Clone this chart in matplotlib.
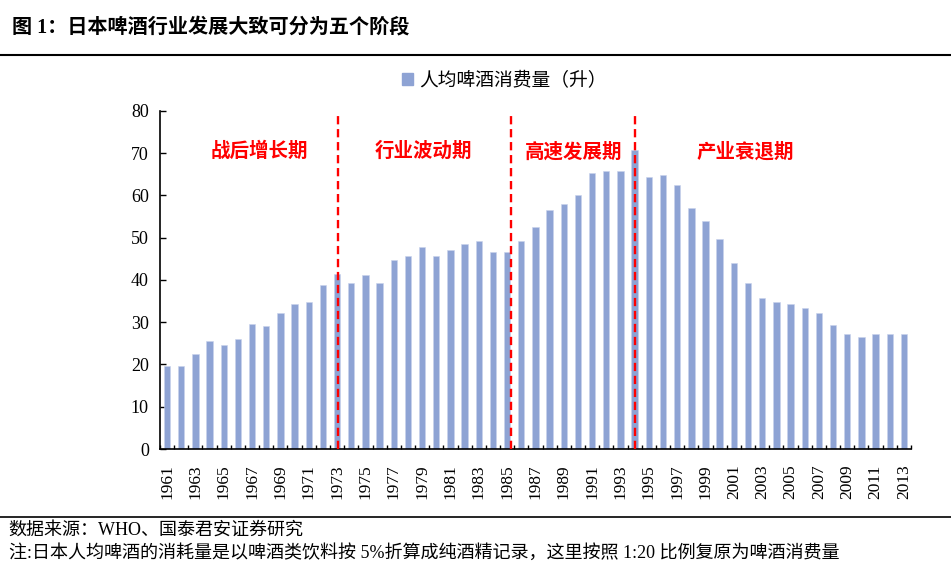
#!/usr/bin/env python

import numpy as np
import matplotlib
matplotlib.use("Agg")
import matplotlib.pyplot as plt
from matplotlib.patches import Patch

years = list(range(1961, 2014))
consumption = [
    19.7, 19.7, 22.5, 25.5, 24.5, 26.0, 29.5, 29.0, 32.3, 34.3,
    34.8, 38.8, 41.5, 39.2, 41.2, 39.2, 44.8, 45.7, 47.7, 45.7,
    47.2, 48.6, 49.2, 46.7, 46.7, 49.2, 52.5, 56.6, 58.0, 60.0,
    65.3, 65.8, 65.8, 70.8, 64.3, 64.8, 62.5, 57.0, 54.0, 49.6,
    44.0, 39.2, 35.8, 34.7, 34.3, 33.3, 32.3, 29.3, 27.3, 26.4,
    27.3, 27.3, 27.3,
]
phase_names = ["战后增长期", "行业波动期", "高速发展期", "产业衰退期"]
# dashed separators sit at these years
phase_breaks = [1973, 1985, 1994]

title = "图 1：日本啤酒行业发展大致可分为五个阶段"
legend_label = "人均啤酒消费量（升）"
source_note = "数据来源：WHO、国泰君安证券研究"
remark_note = "注:日本人均啤酒的消耗量是以啤酒类饮料按 5%折算成纯酒精记录，这里按照 1:20 比例复原为啤酒消费量"

serif = ["Liberation Serif", "Noto Sans CJK SC"]
cjk = ["Noto Sans CJK SC", "DejaVu Sans"]
bar_color = "#8EA3D4"


def draw():
    fig = plt.figure(figsize=(9.51, 5.83), dpi=100)
    ax = fig.add_axes([0.1682, 0.2298, 0.7897, 0.5800])

    x = np.arange(len(years))
    ax.bar(x, consumption, width=0.45, color=bar_color,
           edgecolor="#C9D3EC", linewidth=0.4, zorder=2)

    ax.set_xlim(-0.5, len(years) - 0.5)
    ax.set_ylim(0, 80)
    ax.set_yticks(np.arange(0, 81, 10))
    for lbl in ax.get_yticklabels():
        lbl.set_family(serif)
    ax.tick_params(axis="y", direction="in", length=4, width=1,
                   labelsize=13, pad=8)

    ax.set_xticks(x[::2])
    ax.set_xticklabels([str(y) for y in years[::2]], rotation=90,
                       family=serif, fontsize=12.5)
    ax.tick_params(axis="x", which="major", length=0, pad=11)
    ax.set_xticks(np.arange(-0.5, len(years), 1.0), minor=True)
    ax.tick_params(axis="x", which="minor", direction="in", length=3,
                   width=1)

    for side in ("top", "right"):
        ax.spines[side].set_visible(False)
    for side in ("left", "bottom"):
        ax.spines[side].set_linewidth(1.2)

    offsets = [0.05, 0.3, 0.0]
    for yr, off in zip(phase_breaks, offsets):
        ax.plot([years.index(yr) + off] * 2, [0, 79.3], color="red",
                lw=1.7, linestyle=(0, (3.5, 2)), zorder=3)

    label_pos = [6.5, 18.1, 28.7, 40.8]
    for name, px in zip(phase_names, label_pos):
        ax.text(px, 70.4, name, color="red", fontsize=14,
                fontweight="bold", family=cjk, ha="center", va="center")

    fig.legend(handles=[Patch(color=bar_color, label=legend_label)],
               loc="center", bbox_to_anchor=(0.53, 0.862), frameon=False,
               prop={"family": cjk, "size": 13.5}, handlelength=0.6,
               handleheight=0.6, handletextpad=0.3)

    fig.text(0.013, 0.953, title, family=serif, fontsize=14.5,
             fontweight="bold", ha="left", va="center")
    fig.add_artist(plt.Line2D([0, 1], [1 - 55 / 583] * 2, color="black",
                              lw=1.5, transform=fig.transFigure))
    fig.add_artist(plt.Line2D([0, 1], [1 - 517 / 583] * 2, color="black",
                              lw=1.2, transform=fig.transFigure))
    fig.text(0.009, 1 - 530 / 583, source_note, family=serif, fontsize=13,
             ha="left", va="center")
    fig.text(0.009, 1 - 553 / 583, remark_note, family=serif, fontsize=13,
             ha="left", va="center")

    fig.savefig("out.png", dpi=100)


if __name__ == '__main__':
    draw()
